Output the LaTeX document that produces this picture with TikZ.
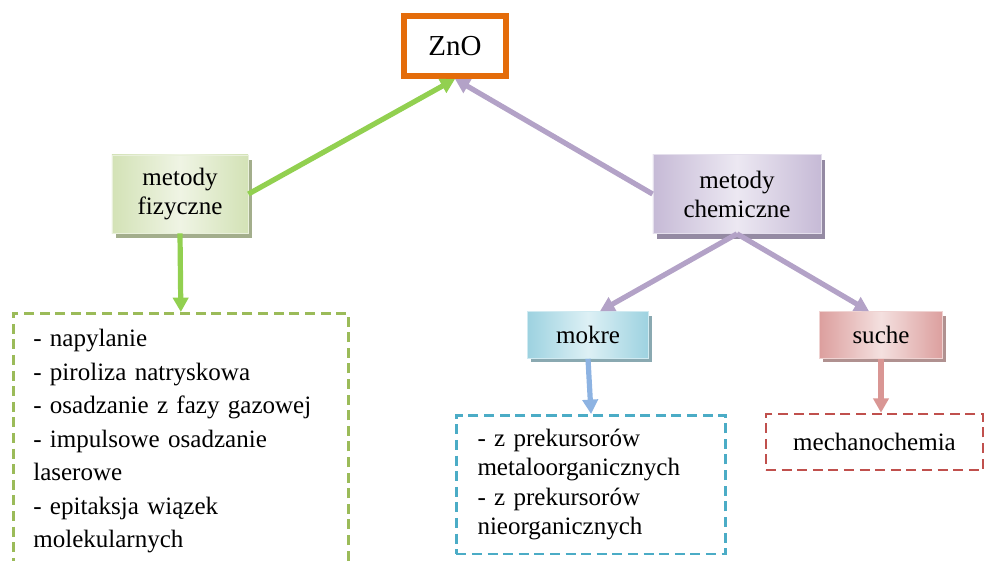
\documentclass[tikz,border=0pt]{standalone}
\usepackage{fontspec}
\setmainfont{Liberation Serif}
\usetikzlibrary{arrows.meta}
\usetikzlibrary{shadows}
\definecolor{znoLine}{HTML}{E46C0A}
\definecolor{fizDark}{HTML}{D3E2B6}
\definecolor{fizLight}{HTML}{EFF4E4}
\definecolor{fizShadow}{HTML}{A3AE8C}
\definecolor{fizArrow}{HTML}{92D050}
\definecolor{fizDash}{HTML}{9BBB59}
\definecolor{chemDark}{HTML}{C6BAD6}
\definecolor{chemLight}{HTML}{ECE8F2}
\definecolor{chemShadow}{HTML}{948AA3}
\definecolor{chemArrow}{HTML}{B3A2C7}
\definecolor{wetDark}{HTML}{9DD2E0}
\definecolor{wetLight}{HTML}{DDF0F5}
\definecolor{wetShadow}{HTML}{8AA9B1}
\definecolor{wetArrow}{HTML}{8DB3E2}
\definecolor{wetDash}{HTML}{4BACC6}
\definecolor{dryDark}{HTML}{DC9F9E}
\definecolor{dryLight}{HTML}{F4E0DF}
\definecolor{dryShadow}{HTML}{B09190}
\definecolor{dryArrow}{HTML}{D99694}
\definecolor{dryDash}{HTML}{C0504D}
\tikzstyle{product}=[draw=znoLine, line width=0.15cm, minimum width=2.55cm, minimum height=1.5cm, font=\fontsize{20.6}{24}\selectfont]
\tikzstyle{method}=[line width=0.6pt, align=center, inner sep=0pt, font=\fontsize{17.8}{20.6}\selectfont]
\tikzstyle{fizyczne}=[left color=fizDark, right color=fizDark, middle color=fizLight, draw=fizLight!80!fizDark, drop shadow={shadow xshift=0.1cm, shadow yshift=-0.13cm, fill=fizShadow, opacity=1}]
\tikzstyle{chemiczne}=[left color=chemDark, right color=chemDark, middle color=chemLight, draw=chemLight!80!chemDark, drop shadow={shadow xshift=0.1cm, shadow yshift=-0.13cm, fill=chemShadow, opacity=1}]
\tikzstyle{mokre}=[left color=wetDark, right color=wetDark, middle color=wetLight, draw=wetLight!80!wetDark, drop shadow={shadow xshift=0.08cm, shadow yshift=-0.1cm, fill=wetShadow, opacity=1}]
\tikzstyle{suche}=[left color=dryDark, right color=dryDark, middle color=dryLight, draw=dryLight!80!dryDark, drop shadow={shadow xshift=0.08cm, shadow yshift=-0.1cm, fill=dryShadow, opacity=1}]
\tikzstyle{list}=[line width=0.065cm, dash pattern=on 0.25cm off 0.14cm, align=left, inner xsep=0.5cm, font=\fontsize{17.8}{20.6}\selectfont]
\tikzstyle{link}=[line width=0.13cm, -{Triangle[width=0.38cm, length=0.36cm]}]

\begin{document}
\begin{tikzpicture}[x=0.025cm, y=-0.025cm]
  \useasboundingbox (0, 0) rectangle (988, 560);
  \clip (0, 0) rectangle (988, 560);

  \node[product] (zno) at (455, 46) {ZnO};

  \node[method, fizyczne, minimum width=3.4cm, minimum height=1.95cm] (fiz) at (180, 194) {metody\\fizyczne};
  \node[method, chemiczne, minimum width=4.2cm, minimum height=1.97cm] (chem) at (737, 194) {metody\\chemiczne};
  \node[method, mokre, minimum width=3.02cm, minimum height=1.17cm] (wet) at (588, 335) {mokre};
  \node[method, suche, minimum width=3.07cm, minimum height=1.17cm] (dry) at (881, 335) {suche};

  \node[list, draw=fizDash, text width=7.375cm, inner ysep=0.4cm, anchor=north west,
        font=\fontsize{17.8}{23.8}\selectfont] (fiz_list) at (12, 312)
    {- napylanie\\- piroliza natryskowa\\- osadzanie z fazy gazowej\\- impulsowe osadzanie\\laserowe\\- epitaksja wiązek\\molekularnych};
  \node[list, draw=wetDash, text width=5.675cm, inner xsep=0.53cm, inner ysep=0.34cm, anchor=north west,
        font=\fontsize{17.8}{21}\selectfont] (wet_list) at (455, 414)
    {- z prekursorów\\metaloorganicznych\\- z prekursorów\\nieorganicznych};
  \node[list, draw=dryDash, minimum width=5.425cm, minimum height=1.4cm, align=center] (dry_list) at (874.5, 442)
    {mechanochemia};

  \draw[link, fizArrow] (fiz.east) -- (zno.south);
  \draw[link, chemArrow] (chem.west) -- (zno.south);
  \draw[link, chemArrow] (chem.south) -- ([xshift=0.3cm]wet.north);
  \draw[link, chemArrow] (chem.south) -- ([xshift=-0.3cm]dry.north);
  \draw[link, fizArrow] (fiz.south) -- (fiz_list.north);
  \draw[link, wetArrow] (wet.south) -- (wet_list.north);
  \draw[link, dryArrow] (dry.south) -- (dry.south |- dry_list.north);
\end{tikzpicture}
\end{document}
